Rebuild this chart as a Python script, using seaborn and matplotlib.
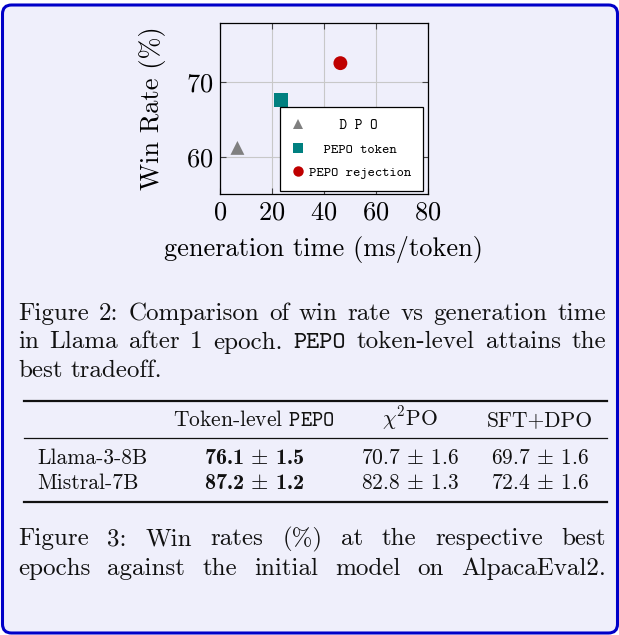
import matplotlib
matplotlib.use('Agg')
import matplotlib.pyplot as plt
import seaborn as sns
import pandas as pd
import numpy as np
from matplotlib.patches import FancyBboxPatch
from matplotlib.lines import Line2D

# --- data ---
methods = ['DPO', 'PEPO token', 'PEPO rejection']
gen_time = [6.7, 23.3, 46.3]          # ms/token
win_rate = [61.2, 67.7, 72.6]         # %
method_colors = ['#808080', '#008080', '#bf0000']
method_markers = ['^', 's', 'o']

x_ticks = [0, 20, 40, 60, 80]
y_ticks = [60, 70]

table_models = ['Llama-3-8B', 'Mistral-7B']
table_columns = [r'Token-level $\mathtt{PEPO}$', r'$\chi^2$PO', 'SFT+DPO']
pepo_mean = [76.1, 87.2]
pepo_std = [1.5, 1.2]
chi2_mean = [70.7, 82.8]
chi2_std = [1.6, 1.3]
sftdpo_mean = [69.7, 72.4]
sftdpo_std = [1.6, 1.6]

caption2 = ['Figure 2: Comparison of win rate vs generation time',
            'in Llama after 1 epoch. PEPO token-level attains the',
            'best tradeoff.']
caption3 = ['Figure 3: Win rates (%) at the respective best',
            'epochs against the initial model on AlpacaEval2.']

plt.rcParams['font.family'] = 'cmr10'
plt.rcParams['mathtext.fontset'] = 'cm'
plt.rcParams['axes.formatter.use_mathtext'] = True

W, H = 619, 635
fig = plt.figure(figsize=(W / 100, H / 100), dpi=100, facecolor='white')

# overlay in pixel coordinates (y grows downwards)
bg = fig.add_axes([0, 0, 1, 1])
bg.set_xlim(0, W)
bg.set_ylim(H, 0)
bg.axis('off')
bg.add_patch(FancyBboxPatch((2.5, 5), 615, 628, boxstyle='round,pad=0,rounding_size=9',
                            facecolor='#efeffb', edgecolor='#0000c8', linewidth=2.2))

# --- scatter plot ---
ax = fig.add_axes([220 / W, 1 - 194 / H, 208 / W, 171 / H])
ax.set_facecolor('none')
df = pd.DataFrame({'time': gen_time, 'win': win_rate, 'method': methods})
sns.scatterplot(data=df, x='time', y='win', hue='method', style='method',
                palette=dict(zip(methods, method_colors)),
                markers=dict(zip(methods, method_markers)),
                s=100, linewidth=0, legend=False, ax=ax, zorder=3)
ax.set_xlim(0, 80)
ax.set_ylim(55, 78)
ax.set_xticks(x_ticks)
ax.set_yticks(y_ticks)
ax.grid(True, color='#c8c8c8', linewidth=0.8)
ax.set_axisbelow(True)
ax.tick_params(direction='in', length=4, width=0.8, color='#444444',
               top=True, right=True, labelsize=19, pad=5)
for sp in ax.spines.values():
    sp.set_color('black')
    sp.set_linewidth(0.9)
ax.set_xlabel('generation time (ms/token)', fontsize=19)
ax.set_ylabel('Win Rate (%)', fontsize=19)
ax.xaxis.set_label_coords(0.5, -0.245)
ax.yaxis.set_label_coords(-0.26, 0.5)

handles = [Line2D([], [], linestyle='none', marker=m, color=c, markersize=7.5, markeredgewidth=0)
           for m, c in zip(method_markers, method_colors)]
# DPO is shown letter-spaced and a bit larger in the original legend
shown = [' '.join(m) if m == 'DPO' else m for m in methods]
width = max(len(m) for m in methods)
leg = ax.legend(handles, [s.center(width).rstrip() for s in shown], loc='lower right',
                bbox_to_anchor=(0.976, 0.0175), prop={'family': 'cmtt10', 'size': 10},
                frameon=True, fancybox=False, framealpha=1, edgecolor='black',
                borderpad=0.85, labelspacing=0.75, handlelength=0.8, handletextpad=0.4,
                borderaxespad=0)
leg.get_frame().set_linewidth(0.9)
leg.get_texts()[0].set_fontsize(10.5)


# --- text blocks ---
def put_line(text, y, x0=18, x1=606, size=18, justify=True):
    words = text.split(' ')
    arts = [bg.text(0, y, w, fontsize=size, family='cmtt10' if w == 'PEPO' else 'cmr10',
                    va='baseline', ha='left', color='#111111') for w in words]
    r = fig.canvas.get_renderer()
    widths = [a.get_window_extent(r).width for a in arts]
    if justify and len(arts) > 1:
        gap = (x1 - x0 - sum(widths)) / (len(arts) - 1)
    else:
        gap = size * 100 / 72 * 0.333
    x = x0
    for a, w in zip(arts, widths):
        a.set_x(x)
        x += w + gap


for i, line in enumerate(caption2):
    put_line(line, 320 + 28.5 * i, justify=i < len(caption2) - 1)
# the last line of figure 3's caption fills the full width in the original
for i, line in enumerate(caption3):
    put_line(line, 545 + 30 * i, justify=True)

# table
tsize = 15.5
col_x = [254, 410, 540]
bg.plot([24, 607], [401, 401], color='#111111', lw=1.6)
bg.plot([24, 607], [438, 438], color='#111111', lw=0.9)
bg.plot([24, 607], [502, 502], color='#111111', lw=1.6)
for cx, head in zip(col_x, table_columns):
    bg.text(cx, 426, head, fontsize=tsize, ha='center', va='baseline', color='#111111')
row_y = [464, 489]
for i, model in enumerate(table_models):
    y = row_y[i]
    bg.text(37, y, model, fontsize=tsize, ha='left', va='baseline', color='#111111')
    bg.text(col_x[0], y, r'%.1f $\pm$ %.1f' % (pepo_mean[i], pepo_std[i]), family='cmb10',
            fontsize=tsize + 0.5, ha='center', va='baseline', color='#111111')
    bg.text(col_x[1], y, r'%.1f $\pm$ %.1f' % (chi2_mean[i], chi2_std[i]),
            fontsize=tsize, ha='center', va='baseline', color='#111111')
    bg.text(col_x[2], y, r'%.1f $\pm$ %.1f' % (sftdpo_mean[i], sftdpo_std[i]),
            fontsize=tsize, ha='center', va='baseline', color='#111111')

fig.savefig('out.png', dpi=100, facecolor='white')
